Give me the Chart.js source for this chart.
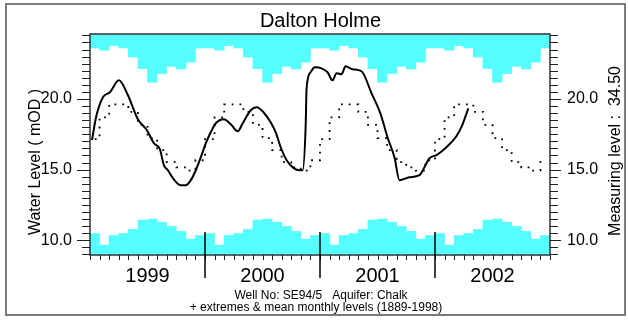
<!DOCTYPE html>
<html>
<head>
<meta charset="utf-8">
<title>Dalton Holme</title>
<script src="https://cdn.jsdelivr.net/npm/chart.js@4.4.1/dist/chart.umd.min.js"></script>
<style>
  html, body { margin: 0; padding: 0; background: #fff; }
  canvas { display: block; }
</style>
</head>
<body>
<canvas id="chart" width="628" height="320"></canvas>
<script>
// monthly statistics (1889-1998), Jan..Dec
var monthlyMax  = [23.61, 23.45, 23.78, 23.61, 22.97, 22.15, 21.18, 21.80, 22.31, 22.12, 22.60, 23.61];
var monthlyMin  = [10.47, 9.65, 10.33, 10.47, 10.76, 11.42, 11.49, 11.27, 10.97, 10.62, 10.07, 10.33];
var monthlyMean = [17.15, 18.70, 19.62, 19.62, 19.09, 18.17, 17.22, 16.38, 15.53, 15.15, 14.93, 15.66];

// observed levels, x = months since 1 Jan 1999
var obsMonth = [0.21, 0.63, 1.35, 2.08, 3.02, 3.96, 5.0, 5.94, 6.67, 7.29, 7.71, 8.13, 8.65, 9.48, 10.0,
  10.52, 11.04, 11.56, 12.08, 12.6, 13.13, 13.96, 14.69, 15.42, 15.94, 16.77, 17.4, 18.1, 18.85, 19.38,
  19.9, 20.52, 21.25, 21.88, 22.19, 22.5, 22.6, 23.02, 23.44, 24.17, 24.79, 25.3, 25.73, 26.25, 26.67,
  27.4, 28.33, 29.38, 30.3, 31.04, 31.77, 32.29, 33.33, 34.38, 34.9, 35.42, 36.15, 37.19, 38.23, 38.75, 39.48];
var obsLevel = [17.08, 18.70, 20.12, 20.47, 21.32, 20.26, 18.56, 17.78, 16.86, 16.44, 15.31, 14.95, 14.39, 13.89, 13.89,
  14.25, 14.95, 15.87, 16.86, 17.64, 18.28, 18.56, 18.21, 17.71, 18.28, 19.20, 19.41, 19.06, 18.35, 17.64,
  16.58, 15.66, 15.10, 14.95, 14.95, 18.0, 20.76, 21.89, 22.24, 22.17, 21.89, 21.32, 21.82, 21.75, 22.31,
  22.10, 21.96, 20.40, 18.98, 17.29, 15.87, 14.25, 14.46, 14.60, 15.17, 15.80, 16.02, 16.58, 17.36, 18.0, 19.34];

var years = ['1999', '2000', '2001', '2002'];
var levelTicks = [10, 15, 20];
var yMin = 8.95, yMax = 24.6;

var nMonths = years.length * 12;
var upperBand = [], lowerBand = [], meanLine = [], observed = [];
for (var i = 0; i < nMonths; i++) {
  upperBand.push({ x: i + 0.5, y: [monthlyMax[i % 12], yMax] });
  lowerBand.push({ x: i + 0.5, y: [yMin, monthlyMin[i % 12]] });
  meanLine.push({ x: i + 0.5, y: monthlyMean[i % 12] });
}
for (var j = 0; j < obsMonth.length; j++) {
  observed.push({ x: obsMonth[j], y: obsLevel[j] });
}

var cyan = '#55ffff';

var decor = {
  id: 'decor',
  beforeDraw: function (chart) {
    var ctx = chart.ctx;
    ctx.save();
    ctx.fillStyle = '#fff';
    ctx.fillRect(0, 0, chart.width, chart.height);
    ctx.strokeStyle = '#7a7a7a';
    ctx.lineWidth = 2;
    ctx.strokeRect(6, 4, 619, 311);
    ctx.restore();
  },
  afterDatasetsDraw: function (chart) {
    var ctx = chart.ctx, a = chart.chartArea;
    var xs = chart.scales.x, ys = chart.scales.y;
    ctx.save();
    // plot frame
    ctx.strokeStyle = '#333';
    ctx.lineWidth = 1.5;
    ctx.strokeRect(a.left, a.top, a.right - a.left, a.bottom - a.top);

    // level ticks every 0.5 m on both sides
    ctx.lineWidth = 1;
    ctx.strokeStyle = '#222';
    for (var v = 9; v <= 24.5; v += 0.5) {
      var py = Math.round(ys.getPixelForValue(v)) + 0.5;
      var major = v % 5 === 0;
      ctx.beginPath();
      ctx.moveTo(a.left - (major ? 13 : 8), py);
      ctx.lineTo(a.left, py);
      ctx.moveTo(a.right, py);
      ctx.lineTo(a.right + (major ? 11 : 8), py);
      ctx.stroke();
    }
    // month ticks
    for (var m = 0; m <= nMonths; m++) {
      var px = Math.round(xs.getPixelForValue(m)) + 0.5;
      ctx.beginPath();
      ctx.moveTo(px, a.bottom);
      ctx.lineTo(px, a.bottom + 5);
      ctx.stroke();
    }
    // year dividers
    ctx.strokeStyle = '#000';
    ctx.lineWidth = 1.5;
    for (var k = 1; k < years.length; k++) {
      var yx = xs.getPixelForValue(k * 12);
      ctx.beginPath();
      ctx.moveTo(yx, a.bottom - 23);
      ctx.lineTo(yx, a.bottom + 23);
      ctx.stroke();
    }

    // texts
    ctx.fillStyle = '#000';
    ctx.textAlign = 'center';
    ctx.textBaseline = 'alphabetic';
    ctx.font = '20px "Liberation Sans", Arial, sans-serif';
    ctx.fillText('Dalton Holme', 320.5, 27);

    ctx.font = '12px "Liberation Sans", Arial, sans-serif';
    ctx.fillText('Well No: SE94/5   Aquifer: Chalk', 321, 299);
    ctx.fillText('+ extremes & mean monthly levels (1889-1998)', 316, 311);

    ctx.font = '16px "Liberation Sans", Arial, sans-serif';
    ctx.save();
    ctx.translate(40, 162);
    ctx.rotate(-Math.PI / 2);
    ctx.fillText('Water Level ( mOD )', 0, 0);
    ctx.restore();

    ctx.save();
    ctx.translate(620, 151);
    ctx.rotate(-Math.PI / 2);
    ctx.fillText('Measuring level :  34.50', 0, 0);
    ctx.restore();

    ctx.restore();
  }
};

var ctx = document.getElementById('chart').getContext('2d');
new Chart(ctx, {
  type: 'line',
  data: {
    datasets: [
      {
        type: 'line',
        label: 'Observed',
        data: observed,
        borderColor: '#000',
        borderWidth: 2,
        pointRadius: 0,
        cubicInterpolationMode: 'monotone',
        order: 1
      },
      {
        type: 'line',
        label: 'Mean',
        data: meanLine,
        borderColor: '#000',
        borderWidth: 1.8,
        borderDash: [1.8, 6],
        stepped: 'middle',
        pointRadius: 0,
        order: 2
      },
      {
        type: 'bar',
        label: 'Max',
        data: upperBand,
        backgroundColor: cyan,
        borderWidth: 0,
        grouped: false,
        barPercentage: 1,
        categoryPercentage: 1,
        order: 3
      },
      {
        type: 'bar',
        label: 'Min',
        data: lowerBand,
        backgroundColor: cyan,
        borderWidth: 0,
        grouped: false,
        barPercentage: 1,
        categoryPercentage: 1,
        order: 3
      }
    ]
  },
  options: {
    responsive: false,
    animation: false,
    devicePixelRatio: 1,
    layout: { padding: { top: 34, left: 0, right: 0, bottom: 0 } },
    plugins: {
      legend: { display: false },
      tooltip: { enabled: false },
      title: { display: false }
    },
    scales: {
      x: {
        type: 'linear',
        min: 0,
        max: nMonths,
        offset: false,
        grid: { display: false, drawTicks: false },
        border: { display: false },
        afterBuildTicks: function (scale) {
          scale.ticks = years.map(function (y, k) { return { value: k * 12 + 6 }; });
        },
        ticks: {
          color: '#000',
          padding: 9,
          maxRotation: 0,
          autoSkip: false,
          font: { family: '"Liberation Sans", Arial, sans-serif', size: 20 },
          callback: function (value) { return years[Math.round((value - 6) / 12)]; }
        },
        afterFit: function (scale) { scale.height = 65; }
      },
      y: {
        type: 'linear',
        position: 'left',
        min: yMin,
        max: yMax,
        grid: { display: false, drawTicks: false },
        border: { display: false },
        afterBuildTicks: function (scale) {
          scale.ticks = levelTicks.map(function (v) { return { value: v }; });
        },
        ticks: {
          color: '#000',
          padding: 18,
          font: { family: '"Liberation Sans", Arial, sans-serif', size: 16 },
          callback: function (value) { return value.toFixed(1); }
        },
        afterFit: function (scale) { scale.width = 90; }
      },
      y2: {
        type: 'linear',
        position: 'right',
        min: yMin,
        max: yMax,
        grid: { display: false, drawTicks: false },
        border: { display: false },
        afterBuildTicks: function (scale) {
          scale.ticks = levelTicks.map(function (v) { return { value: v }; });
        },
        ticks: {
          color: '#000',
          padding: 17,
          font: { family: '"Liberation Sans", Arial, sans-serif', size: 16 },
          callback: function (value) { return value.toFixed(1); }
        },
        afterFit: function (scale) { scale.width = 78; }
      }
    }
  },
  plugins: [decor]
});
</script>
</body>
</html>
